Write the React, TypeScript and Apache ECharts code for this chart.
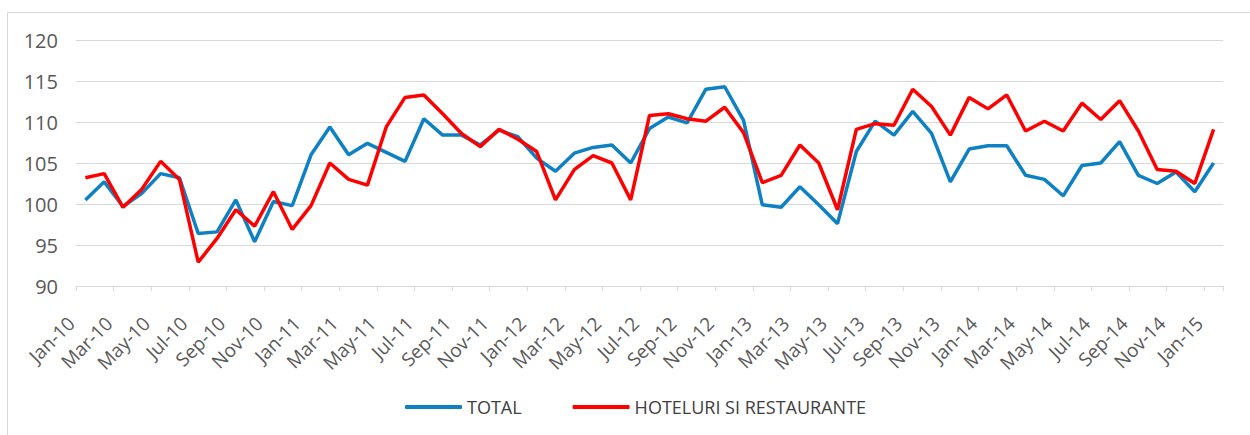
import React, { useEffect, useRef } from "react";
import * as echarts from "echarts";

const categories = [
  "Jan-10","Feb-10","Mar-10","Apr-10","May-10","Jun-10","Jul-10","Aug-10","Sep-10","Oct-10","Nov-10","Dec-10",
  "Jan-11","Feb-11","Mar-11","Apr-11","May-11","Jun-11","Jul-11","Aug-11","Sep-11","Oct-11","Nov-11","Dec-11",
  "Jan-12","Feb-12","Mar-12","Apr-12","May-12","Jun-12","Jul-12","Aug-12","Sep-12","Oct-12","Nov-12","Dec-12",
  "Jan-13","Feb-13","Mar-13","Apr-13","May-13","Jun-13","Jul-13","Aug-13","Sep-13","Oct-13","Nov-13","Dec-13",
  "Jan-14","Feb-14","Mar-14","Apr-14","May-14","Jun-14","Jul-14","Aug-14","Sep-14","Oct-14","Nov-14","Dec-14",
  "Jan-15",
];

const totalValues = [
  100.5, 102.7, 99.7, 101.3, 103.7, 103.2, 96.4, 96.6, 100.5, 95.4, 100.3, 99.8,
  106.0, 109.4, 106.0, 107.4, 106.3, 105.2, 110.4, 108.4, 108.4, 107.2, 109.0, 108.2,
  105.6, 104.0, 106.2, 106.9, 107.2, 105.0, 109.2, 110.6, 109.9, 114.0, 114.3, 110.2,
  99.9, 99.6, 102.1, 99.9, 97.6, 106.4, 110.1, 108.4, 111.3, 108.6, 102.7, 106.7,
  107.1, 107.1, 103.5, 103.0, 101.0, 104.7, 105.0, 107.6, 103.5, 102.5, 103.9, 101.5,
  105.0,
];

const hotelValues = [
  103.2, 103.7, 99.6, 101.8, 105.2, 103.0, 92.9, 95.8, 99.3, 97.3, 101.5, 96.9,
  99.8, 105.0, 103.0, 102.3, 109.4, 113.0, 113.3, 111.0, 108.6, 107.0, 109.1, 107.9,
  106.4, 100.5, 104.2, 105.9, 105.0, 100.5, 110.8, 111.0, 110.4, 110.1, 111.8, 108.7,
  102.6, 103.5, 107.2, 105.0, 99.3, 109.1, 109.8, 109.6, 114.0, 111.9, 108.4, 113.0,
  111.6, 113.3, 108.9, 110.1, 108.9, 112.3, 110.3, 112.6, 108.9, 104.2, 104.0, 102.5,
  109.1,
];

const seriesNames = ["TOTAL", "HOTELURI SI RESTAURANTE"];
const seriesColors = ["#0E80C4", "#FF0000"];

export default function App() {
  const ref = useRef<HTMLDivElement>(null);
  useEffect(() => {
    if (!ref.current) return;
    const chart = echarts.init(ref.current, undefined, { renderer: "svg" });
    const font = "'Open Sans', sans-serif";
    chart.setOption({
      animation: false,
      backgroundColor: "#ffffff",
      graphic: [
        {
          type: "rect",
          shape: { x: 7.5, y: 12.5, width: 1300, height: 500 },
          style: { fill: "none", stroke: "#d9d9d9", lineWidth: 1 },
          silent: true,
        },
      ],
      grid: { left: 76, right: 27, top: 40, bottom: 149 },
      legend: {
        left: 400,
        top: 393,
        icon: "roundRect",
        itemWidth: 57,
        itemHeight: 4,
        itemGap: 51,
        textStyle: { fontFamily: font, fontSize: 18, color: "#404040" },
        data: seriesNames,
      },
      xAxis: {
        type: "category",
        data: categories,
        boundaryGap: true,
        axisLine: { show: true, lineStyle: { color: "#d9d9d9", width: 1 } },
        axisTick: { show: true, interval: 1, length: 5, lineStyle: { color: "#d9d9d9" } },
        axisLabel: {
          interval: 1,
          rotate: 45,
          margin: 20,
          padding: [0, 20, 0, 0],
          fontFamily: font,
          fontSize: 19,
          color: "#595959",
        },
        splitLine: { show: false },
      },
      yAxis: {
        type: "value",
        min: 90,
        max: 120,
        interval: 5,
        axisLine: { show: false },
        axisTick: { show: false },
        axisLabel: { fontFamily: font, fontSize: 20, color: "#595959", margin: 18 },
        splitLine: { show: true, lineStyle: { color: "#d9d9d9", width: 1 } },
      },
      series: [
        {
          name: seriesNames[0],
          type: "line",
          data: totalValues,
          showSymbol: false,
          symbol: "none",
          color: seriesColors[0],
          lineStyle: { color: seriesColors[0], width: 3.5 },
          z: 2,
        },
        {
          name: seriesNames[1],
          type: "line",
          data: hotelValues,
          showSymbol: false,
          symbol: "none",
          color: seriesColors[1],
          lineStyle: { color: seriesColors[1], width: 3.5 },
          z: 3,
        },
      ],
    });
    return () => chart.dispose();
  }, []);
  return (
    <div
      ref={ref}
      style={{ position: "absolute", left: 0, top: 0, width: 1250, height: 435 }}
    />
  );
}
